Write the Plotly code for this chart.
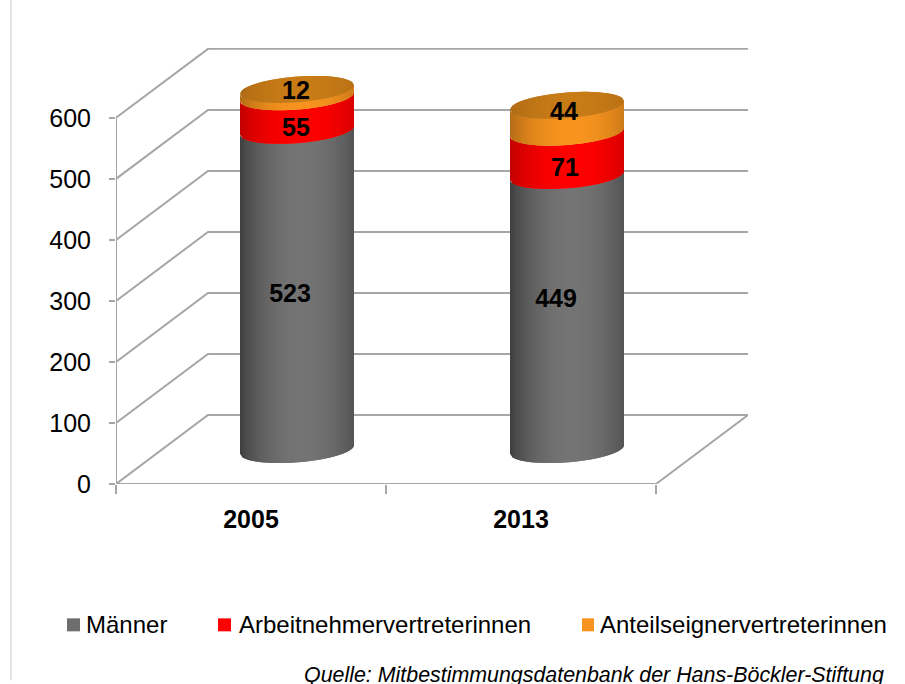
import math
import plotly.graph_objects as go

# Data
years = ["2005", "2013"]
series_names = ["Männer", "Arbeitnehmervertreterinnen", "Anteilseignervertreterinnen"]
maenner = [523, 449]
arbeitnehmer = [55, 71]
anteilseigner = [12, 44]
y_ticks = [0, 100, 200, 300, 400, 500, 600]

# Styles
swatch = ["#6e6e6e", "#ff0000", "#f7931e"]
side_center = [(116, 116, 116), (255, 0, 0), (248, 148, 30)]
side_edge = [(60, 60, 60), (190, 0, 0), (175, 105, 22)]
cap_center = (200, 124, 22)
cap_edge = (172, 104, 20)
line_col = "#a6a6a6"
FONT = "Liberation Sans"

# Oblique projection of the 3D box, in axis units
PX_X = 270         # pixels per category
PX_V = 0.611       # pixels per value unit
DX = 92 / PX_X     # depth shift in category units
DV = 113           # depth shift in value units
HALF_W = 57 / PX_X # cylinder half width
ELL_B = 21         # ellipse half height, value units
ELL_T = 7          # ellipse tilt, value units
N = 48

# Label placement relative to the segment centre, (px right, px down), per series and year
label_nudge = [[(-7, 6), (-11, -12)], [(-1, 16), (-2, 16)], [(-1, 0), (-3, -5)]]

fig = go.Figure()


def wall(x, y):
    fig.add_trace(go.Scatter(x=x, y=y, mode="lines", line=dict(color=line_col, width=2),
                             showlegend=False, hoverinfo="skip", cliponaxis=False))


for v in y_ticks:
    wall([0, DX, 2 + DX], [v, v + DV, v + DV])
wall([0, 0], [0, 600])
wall([0, 2, 2 + DX], [0, 0, DV])


def mix(a, b, t):
    return "rgb(%d,%d,%d)" % tuple(round(a[i] * t + b[i] * (1 - t)) for i in range(3))


def shade(u):
    return math.cos(min(abs(u - 0.1) / 1.1, 1) * math.pi / 2) ** 0.7


def lower(vc, u):
    return vc + ELL_T * u - ELL_B * math.sqrt(max(0, 1 - u * u))


def upper(vc, u):
    return vc + ELL_T * u + ELL_B * math.sqrt(max(0, 1 - u * u))


def strips(name, bottoms, tops, edge_fn_bottom, edge_fn_top, c_center, c_edge):
    """One filled trace per shade level; every strip runs under the next one, so no seams show."""
    for i in range(N):
        u0 = -1 + 2 * i / N
        u_mid = u0 + 1 / N
        u1 = min(1, u0 + 4 / N)
        xs, ys = [], []
        for k in range(len(years)):
            cx = k + 0.5 + DX / 2
            us = [u0 + (u1 - u0) * j / 4 for j in range(5)]
            xs += [cx + HALF_W * u for u in us] + [cx + HALF_W * u for u in reversed(us)] + [None]
            ys += ([edge_fn_bottom(bottoms[k], u) for u in us]
                   + [edge_fn_top(tops[k], u) for u in reversed(us)] + [None])
        fig.add_trace(go.Scatter(x=xs, y=ys, mode="lines", fill="toself", name=name,
                                 fillcolor=mix(c_center, c_edge, shade(u_mid)),
                                 line=dict(width=0), showlegend=False,
                                 hoverinfo="skip", cliponaxis=False))


lvl = [DV / 2] * len(years)
stack = [maenner, arbeitnehmer, anteilseigner]
label_x, label_y, label_t = [], [], []
for s in range(3):
    top = [lvl[k] + stack[s][k] for k in range(len(years))]
    strips(series_names[s], lvl, top, lower, lower, side_center[s], side_edge[s])
    for k in range(len(years)):
        dx_px, dy_px = label_nudge[s][k]
        label_x.append(k + 0.5 + DX / 2 + dx_px / PX_X)
        label_y.append((lvl[k] + top[k]) / 2 - dy_px / PX_V)
        label_t.append(str(stack[s][k]))
    lvl = top
strips(series_names[2], lvl, lvl, lower, upper, cap_center, cap_edge)

fig.add_trace(go.Scatter(x=label_x, y=label_y, text=label_t, mode="text", textposition="middle center",
                         textfont=dict(family=FONT, size=25, color="black", weight="bold"),
                         showlegend=False, hoverinfo="skip", cliponaxis=False))

L, R, T, B = 116, 748, 48, 484.5


def px(x):
    return (x - L) / (R - L)


def py(y):
    return 1 - (y - T) / (B - T)


# Legend, placed by hand: swatch (left, right) and text start in pixels
legend_boxes = [(67, 80, 85), (218, 231, 238), (582, 594, 599)]
legend_top, legend_bottom, legend_mid = 619, 632, 625

shapes = [dict(type="line", xref="paper", yref="paper", x0=px(11), x1=px(11), y0=py(681), y1=py(0),
               line=dict(color="#c8c8c8", width=1))]
annotations = [dict(text="<i>Quelle: Mitbestimmungsdatenbank der Hans-Böckler-Stiftung</i>",
                    xref="paper", yref="paper", x=px(886), xanchor="right",
                    y=py(676), yanchor="middle", showarrow=False,
                    font=dict(family=FONT, size=21.4, color="black"))]
for name, c, (x0, x1, xt) in zip(series_names, swatch, legend_boxes):
    shapes.append(dict(type="rect", xref="paper", yref="paper", x0=px(x0), x1=px(x1),
                       y0=py(legend_bottom), y1=py(legend_top), fillcolor=c, line=dict(width=0)))
    annotations.append(dict(text=name, xref="paper", yref="paper", x=px(xt), xanchor="left",
                            y=py(legend_mid), yanchor="middle", showarrow=False, xshift=-1,
                            font=dict(family=FONT, size=24, color="black")))

fig.update_layout(
    width=905, height=684,
    margin=dict(l=L, r=905 - R, t=T, b=684 - B, pad=0),
    paper_bgcolor="white", plot_bgcolor="white", showlegend=False,
    xaxis=dict(range=[0, (R - L) / PX_X], tickvals=[0.5, 1.5], ticktext=years, ticks="",
               showgrid=False, zeroline=False, showline=False,
               minor=dict(tickvals=[0, 1, 2], ticks="outside", ticklen=9, tickwidth=2,
                          tickcolor=line_col, showgrid=False),
               ticklabelstandoff=18,
               tickfont=dict(family=FONT, size=25, color="black", weight="bold")),
    yaxis=dict(range=[0, (B - T) / PX_V], tickvals=y_ticks, ticks="outside", ticklen=6,
               tickwidth=2, tickcolor=line_col, showgrid=False, zeroline=False, showline=False,
               ticklabelstandoff=13,
               tickfont=dict(family=FONT, size=25, color="black")),
    shapes=shapes,
    annotations=annotations,
)

fig.write_html("out.html", config={"displayModeBar": False},
               post_script="document.body.style.margin='0';document.body.style.overflow='hidden';")
